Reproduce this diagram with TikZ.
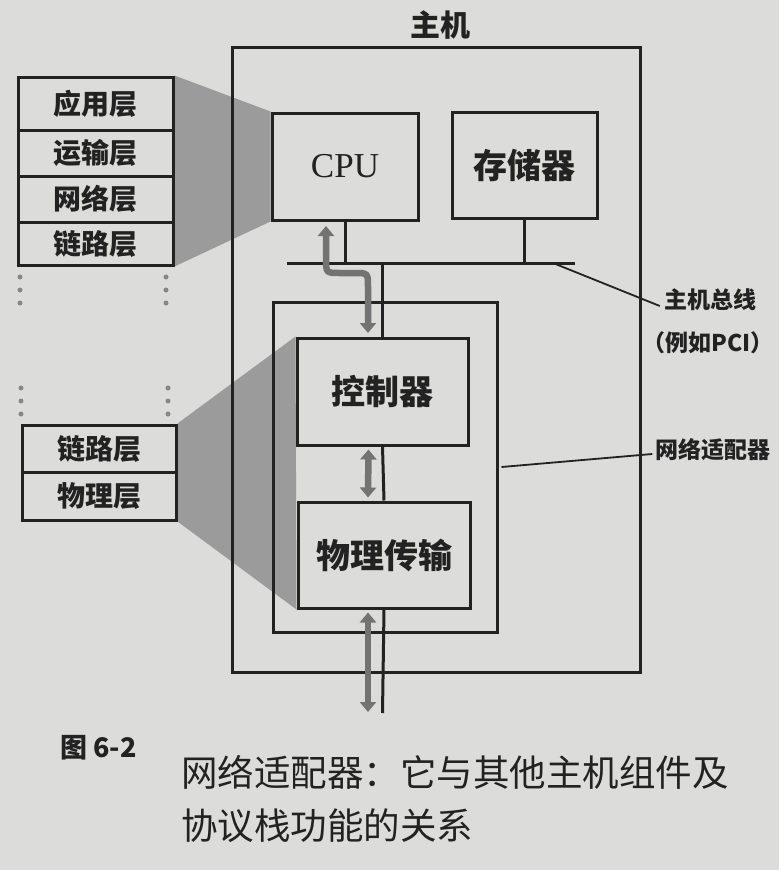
\documentclass[tikz,border=0pt]{standalone}
\usepackage{fontspec}
\setmainfont{Liberation Serif}
\newfontfamily\cjk{Noto Sans CJK SC}
\usetikzlibrary{arrows.meta}
\definecolor{paper}{RGB}{220,220,218}
\definecolor{ink}{RGB}{34,34,34}
\definecolor{shadecol}{RGB}{155,155,155}
\definecolor{arrcol}{RGB}{115,115,115}
\definecolor{dotcol}{RGB}{135,135,135}
\pgfdeclarelayer{paperlayer}
\pgfdeclarelayer{shadelayer}
\pgfsetlayers{paperlayer,shadelayer,main}
\begin{document}
\begin{tikzpicture}[x=1pt,y=-1pt,
  blk/.style={draw=ink, line width=3pt, inner sep=0pt, text=ink},
  stk/.style={blk, minimum width=155pt, font=\cjk\bfseries\fontsize{28}{32}\selectfont},
  inbox/.style={blk, font=\cjk\bfseries\fontsize{34}{40}\selectfont},
  lbl/.style={text=ink, inner sep=0pt, font=\cjk\bfseries\fontsize{23}{28}\selectfont},
  wire/.style={draw=ink, line width=3pt},
  lead/.style={draw=ink, line width=1.8pt},
  dbl/.style={draw=arrcol, line width=6.5pt,
    {Triangle[width=16pt,length=10pt]}-{Triangle[width=16pt,length=10pt]}},
  shd/.style={fill=shadecol, draw=none},
  dotm/.style={fill=dotcol, draw=none}]
\begin{pgfonlayer}{paperlayer}
\fill[paper] (0,0) rectangle (779,870);
\end{pgfonlayer}
\useasboundingbox (0,0) rectangle (779,870);

% left protocol stacks
\node[stk, minimum height=53pt] (app) at (95.5,103.5) {应用层};
\node[stk, minimum height=46pt] (trans) at (95.5,153) {运输层};
\node[stk, minimum height=46pt] (net) at (95.5,199) {网络层};
\node[stk, minimum height=43pt] (linkA) at (95.5,243.5) {链路层};
\node[stk, minimum width=154pt, minimum height=47pt] (linkB) at (99,448.5) {链路层};
\node[stk, minimum width=154pt, minimum height=48pt] (phyl) at (99,496) {物理层};

% host boxes
\node[blk, minimum width=146pt, minimum height=107pt, font=\fontsize{35}{40}\selectfont] (cpu) at (345,166.5) {CPU};
\node[inbox, minimum width=145pt, minimum height=106pt] (mem) at (524.5,165) {存储器};
\node[inbox, minimum width=171pt, minimum height=107pt] (ctrl) at (382.5,391.5) {控制器};
\node[inbox, minimum width=172pt, minimum height=106pt] (phys) at (384,555) {物理传输};

% shaded projections (behind the boxes)
\begin{pgfonlayer}{shadelayer}
\fill[shd] (app.north east) -- (cpu.north west) -- (cpu.south west) -- (linkA.south east) -- cycle;
\fill[shd] (linkB.north east) -- (ctrl.north west) -- (phys.south west) -- (phyl.south east) -- cycle;
\end{pgfonlayer}

% host and adapter frames
\node[blk, minimum width=408pt, minimum height=625pt] (host) at (436,359.5) {};
\node[blk, minimum width=224pt, minimum height=330pt] (adapter) at (385,467) {};
\node[text=ink, inner sep=0pt, font=\cjk\bfseries\fontsize{30}{34}\selectfont] (hosttitle) at (440,25) {主机};

% bus
\coordinate (busL) at (287,263);
\coordinate (busR) at (575,263);
\coordinate (busPt) at (553,263);
\draw[wire] (busL) -- (busR);
\draw[wire] (cpu.south) -- (cpu.south |- busL);
\draw[wire] (mem.south) -- (mem.south |- busL);
\draw[wire] (ctrl.north) -- (ctrl.north |- busL);
\draw[wire] (ctrl.south) -- (phys.north);
\coordinate (netEnd) at (382.5,713);
\draw[wire] (phys.south) -- (netEnd);

% data arrows
\draw[dbl] (326,226) -- (326,258) .. controls (326,273) and (326,273) .. (340,273)
  -- (354,273) .. controls (368,273) and (368,273) .. (368,287) -- (368,333);
\draw[dbl] ([xshift=-14pt,yshift=-3pt]ctrl.south) -- ([xshift=-16pt,yshift=3pt]phys.north);
\coordinate (arrEnd) at (368,712);
\draw[dbl] ([xshift=-16pt,yshift=-3pt]phys.south) -- (arrEnd);

% ellipsis dots
\foreach \y in {277,290,303} {\fill[dotm] (20,\y) circle (2.5pt); \fill[dotm] (166,\y) circle (2.5pt);}
\foreach \y in {388,401,414} {\fill[dotm] (21,\y) circle (2.5pt); \fill[dotm] (168,\y) circle (2.5pt);}

% side labels
\node[lbl] (buslbl) at (710,300) {主机总线};
\node[lbl] (buslbl2) at (708,343) {（例如PCI）};
\node[lbl] (adlbl) at (713,450) {网络适配器};
\draw[lead] (busPt) -- ([xshift=-4pt,yshift=-6pt]buslbl.west);
\draw[lead] ([xshift=3pt]adapter.east) -- ([xshift=-3pt,yshift=-4pt]adlbl.west);

% caption
\node[anchor=west, text=ink, inner sep=0pt, font=\cjk\bfseries\fontsize{27}{32}\selectfont] (capnum) at (60,748) {图 6-2};
\node[anchor=west, text=ink, inner sep=0pt, font=\cjk\fontsize{36.5}{40}\selectfont] (cap1) at (181,772) {网络适配器：它与其他主机组件及};
\node[anchor=west, text=ink, inner sep=0pt, font=\cjk\fontsize{36.5}{40}\selectfont] (cap2) at (181,826) {协议栈功能的关系};
\end{tikzpicture}
\end{document}
